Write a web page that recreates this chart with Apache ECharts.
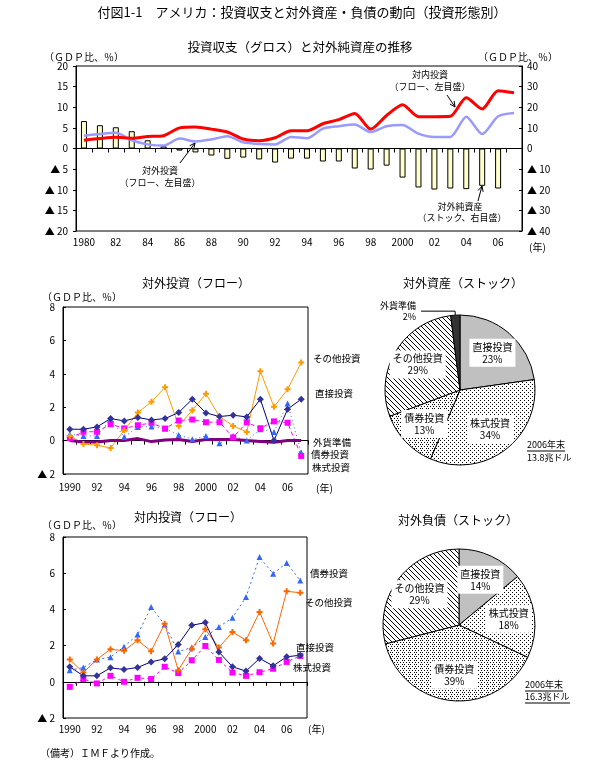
<!DOCTYPE html>
<html><head><meta charset="utf-8">
<script src="https://cdn.jsdelivr.net/npm/echarts@6/dist/echarts.min.js"></script>
<style>html,body{margin:0;padding:0;background:#fff}#c{width:605px;height:771px}</style>
</head><body><div id="c"></div>
<script>
const FONT = '"Noto Sans CJK JP", sans-serif';

// ---------- Top chart data (1980-2007) ----------
const yearsTop = ['1980','1981','1982','1983','1984','1985','1986','1987','1988','1989','1990','1991','1992','1993','1994','1995','1996','1997','1998','1999','2000','2001','2002','2003','2004','2005','2006','2007'];
const topTickLabels = ['1980','82','84','86','88','90','92','94','96','98','2000','02','04','06'];
const inwardFlowGross = [2.0,2.4,2.7,2.5,2.9,3.1,5.0,5.2,4.7,4.0,2.3,1.9,2.6,4.3,4.3,6.0,7.0,8.5,4.7,8.0,10.6,7.7,7.7,7.8,12.3,9.6,14.0,13.5];
const outwardFlowGross = [3.1,3.5,3.8,2.0,1.0,0.7,2.4,1.7,2.2,3.0,1.5,1.1,1.0,2.8,2.5,4.8,5.4,5.8,4.0,5.4,5.7,3.6,2.8,2.8,7.7,3.5,7.8,8.6];
const netAssetsStock = [13.3,11.3,10.3,8.4,4.0,1.1,-1.0,-1.9,-3.4,-5.0,-4.4,-5.3,-6.8,-4.9,-4.9,-6.3,-6.3,-9.7,-10.2,-8.3,-14.1,-18.9,-19.9,-19.4,-19.7,-18.1,-19.4,null];

// ---------- Flow charts data (1990-2007) ----------
const yearsFlow = ['1990','1991','1992','1993','1994','1995','1996','1997','1998','1999','2000','2001','2002','2003','2004','2005','2006','2007'];
const flowTickLabels = ['1990','92','94','96','98','2000','02','04','06'];
// 対外投資（フロー）
const outDirect  = [0.68,0.68,0.82,1.32,1.18,1.38,1.24,1.32,1.68,2.48,1.66,1.44,1.52,1.42,2.48,0.0,1.88,2.48];
const outOther   = [0.28,-0.2,-0.28,-0.44,0.62,1.68,2.32,3.2,0.88,1.82,2.8,1.44,0.88,0.52,4.15,2.02,3.07,4.67];
const outEquity  = [0.14,0.53,0.53,0.98,0.73,0.92,1.06,0.72,1.2,1.26,1.1,1.1,0.19,1.09,0.74,1.15,1.07,-0.92];
const outBond    = [0.38,0.28,0.28,1.28,0.22,0.82,0.84,0.72,0.34,0.08,0.28,-0.16,0.28,0.0,0.68,0.52,2.22,-0.72];
const outReserve = [0.0,-0.08,-0.08,0.0,0.0,0.12,-0.06,0.04,0.06,-0.06,0.06,0.06,0.06,0.0,-0.05,-0.1,0.0,0.0];
// 対内投資（フロー）
const inBond   = [0.64,0.79,1.23,1.36,1.93,2.61,4.13,3.16,1.67,1.89,2.48,3.03,3.54,4.68,6.89,5.97,6.57,5.6];
const inOther  = [1.23,0.51,1.23,1.8,1.71,2.3,1.69,3.21,0.64,1.82,2.9,1.89,2.75,2.3,3.86,2.11,5.0,4.92];
const inDirect = [0.83,0.33,0.33,0.77,0.68,0.79,1.1,1.27,2.06,3.12,3.27,1.65,0.83,0.59,1.29,0.88,1.38,1.47];
const inEquity = [-0.28,0.15,-0.09,0.33,0.0,0.22,0.15,0.83,0.48,1.19,1.98,1.21,0.51,0.33,0.53,0.72,1.1,1.43];

// ---------- Pies ----------
const assetCats = ['直接投資','株式投資','債券投資','その他投資','外貨準備'];
const assetShares = [23,34,13,29,2];
const liabCats = ['直接投資','株式投資','債券投資','その他投資'];
const liabShares = [14,18,39,29];

// ---------- patterns ----------
function pat(w, h, pts) {
  const c = document.createElement('canvas'); c.width = w; c.height = h;
  const g = c.getContext('2d'); g.fillStyle = '#fff'; g.fillRect(0,0,w,h);
  g.fillStyle = '#000'; pts.forEach(p => g.fillRect(p[0], p[1], 1, 1));
  return {image: c, repeat: 'repeat'};
}
const hatchPts = []; for (let i = 0; i < 5; i++) hatchPts.push([i, i]);
const PAT_HATCH = pat(5, 5, hatchPts);
const PAT_DOTS = pat(4, 4, [[0,0],[2,2]]);
const PAT_DOTS2 = pat(6, 4, [[0,0],[2,0],[1,2],[4,2]]);
const fillMap = {'直接投資':'#C0C0C0','株式投資':PAT_DOTS,'債券投資':PAT_DOTS2,'その他投資':PAT_HATCH,'外貨準備':'#333333'};

const negFmt = v => v < 0 ? '▲ ' + Math.abs(v) : String(v);
const tickFmt = labels => (v, i) => (i % 2 === 0 && labels[i/2] !== undefined) ? labels[i/2] : '';

function zeroX(grid, data) {
  return {gridIndex: grid, type: 'category', data, position: 'bottom',
    axisLine: {onZero: true, lineStyle: {color: '#000', width: 1}},
    axisTick: {show: true, length: 4, interval: 0, lineStyle: {color: '#000'}},
    axisLabel: {show: false}, splitLine: {show: false}};
}
function labelX(grid, data, labels, margin) {
  return {gridIndex: grid, type: 'category', data, position: 'bottom',
    axisLine: {show: false, onZero: false}, axisTick: {show: false},
    axisLabel: {interval: 0, formatter: tickFmt(labels), margin, fontSize: 10, color: '#000', fontFamily: FONT},
    splitLine: {show: false}};
}
function valY(grid, min, max, interval, pos, inside) {
  return {gridIndex: grid, type: 'value', min, max, interval, position: pos,
    axisLine: {show: true, lineStyle: {color: '#000'}},
    axisTick: {show: true, inside, length: 3, lineStyle: {color: '#000'}},
    splitLine: {show: false},
    axisLabel: {formatter: negFmt, fontSize: 10, color: '#000', fontFamily: FONT, margin: pos === 'right' ? 5 : 8}};
}

const plusSym = 'path://M2,0H4V2H6V4H4V6H2V4H0V2H2Z';
function flowLine(name, data, xi, yi, color, sym, size, dash, width) {
  return {name, type: 'line', data, xAxisIndex: xi, yAxisIndex: yi,
    symbol: sym, symbolSize: size, showSymbol: sym !== 'none',
    itemStyle: {color}, lineStyle: {color, width: width || 1, type: dash || 'solid'},
    emphasis: {disabled: true}};
}

function pieLabelLayout(cx, cy, skipName) {
  return function (p) {
    if (p.text && p.text.indexOf(skipName) === 0) return {};
    const r = p.labelRect; const lx = r.x + r.width/2, ly = r.y + r.height/2;
    return {dx: (lx - cx) * 0.22, dy: (ly - cy) * 0.22};
  };
}
function pieSeries(cats, shares, center, radius) {
  return {type: 'pie', center, radius, startAngle: 90, clockwise: true, avoidLabelOverlap: false,
    animation: false, emphasis: {disabled: true},
    itemStyle: {borderColor: '#000', borderWidth: 1},
    label: {position: 'inside', formatter: p => p.name + '\n' + p.value + '%', color: '#000',
      fontSize: 10, lineHeight: 12, fontFamily: FONT, backgroundColor: '#fff', padding: [2, 3]},
    labelLayout: pieLabelLayout(center[0], center[1], '外貨準備'),
    data: cats.map((c, i) => {
      const d = {name: c, value: shares[i], itemStyle: {color: fillMap[c]}};
      if (c === '外貨準備') {
        d.label = {position: 'outside', backgroundColor: 'transparent', padding: 0, align: 'right', lineHeight: 11, fontSize: 9};
        d.labelLine = {show: true, length: 4, length2: 34, lineStyle: {color: '#000', width: 1}};
      }
      return d;
    })};
}

function txt(text, x, y, size, align, extra) {
  return Object.assign({type: 'text', x, y, silent: true,
    style: {text, font: (size || 10) + 'px ' + FONT, fill: '#000', align: align || 'left', verticalAlign: 'middle'}}, extra || {});
}
function ln(x1, y1, x2, y2, w) {
  return {type: 'line', silent: true, shape: {x1, y1, x2, y2}, style: {stroke: '#000', lineWidth: w || 1}};
}
function arrow(x1, y1, x2, y2) {
  const a = Math.atan2(y2 - y1, x2 - x1), L = 6, s = 0.45;
  return [ln(x1, y1, x2, y2),
    {type: 'polyline', silent: true, shape: {points: [[x2 - L*Math.cos(a - s), y2 - L*Math.sin(a - s)], [x2, y2], [x2 - L*Math.cos(a + s), y2 - L*Math.sin(a + s)]]},
     style: {stroke: '#000', lineWidth: 1, fill: null}}];
}

const graphics = [
  txt('付図1-1　アメリカ：投資収支と対外資産・負債の動向（投資形態別）', 302, 12, 13, 'center'),
  txt('投資収支（グロス）と対外純資産の推移', 300, 47, 12.5, 'center'),
  txt('（ＧＤＰ比、％）', 44, 57, 10),
  txt('（ＧＤＰ比、％）', 478, 57, 10),
  txt('対内投資', 430, 75, 9, 'center'),
  txt('（フロー、左目盛）', 430, 87, 9, 'center'),
  ...arrow(447, 95, 455, 107),
  txt('対外投資', 160, 171, 9, 'center'),
  txt('（フロー、左目盛）', 160, 183, 9, 'center'),
  ...arrow(180, 163, 195, 143),
  txt('対外純資産', 460, 207, 9, 'center'),
  txt('（ストック、右目盛）', 462, 218, 9, 'center'),
  ...arrow(478, 201, 482, 186),
  txt('(年)', 529, 247, 10),

  txt('対外投資（フロー）', 196, 283, 12, 'center'),
  txt('（ＧＤＰ比、％）', 42, 297, 10),
  txt('その他投資', 313, 358, 9.5),
  txt('直接投資', 315, 393, 9.5),
  txt('外貨準備', 313, 442, 9.5),
  txt('債券投資', 311, 454, 9.5),
  txt('株式投資', 312, 467, 9.5),
  txt('(年)', 316, 488, 10),

  txt('対外資産（ストック）', 463, 283, 12, 'center'),
  txt('2006年末', 527, 445, 9),
  ln(527, 451, 565, 451),
  txt('13.8兆ドル', 527, 458, 9),

  txt('対内投資（フロー）', 188, 517, 12, 'center'),
  txt('（ＧＤＰ比、％）', 42, 525, 10),
  txt('債券投資', 310, 573, 9.5),
  txt('その他投資', 305, 602, 9.5),
  txt('直接投資', 296, 647, 9.5),
  txt('株式投資', 293, 667, 9.5),
  txt('(年)', 308, 729, 10),

  txt('対外負債（ストック）', 458, 520, 12, 'center'),
  txt('2006年末', 525, 685, 9),
  ln(525, 691, 563, 691),
  txt('16.3兆ドル', 525, 697, 9),
  ln(525, 703, 570, 703),

  txt('（備考）ＩＭＦより作成。', 40, 753, 10)
];

const option = {
  animation: false,
  textStyle: {fontFamily: FONT},
  grid: [
    {left: 76, top: 66, width: 446, height: 165, show: true, borderColor: '#000', borderWidth: 1, backgroundColor: 'transparent'},
    {left: 63, top: 307, width: 245, height: 167, show: true, borderColor: '#000', borderWidth: 1, backgroundColor: 'transparent'},
    {left: 63, top: 537, width: 244, height: 181, show: true, borderColor: '#000', borderWidth: 1, backgroundColor: 'transparent'}
  ],
  xAxis: [
    zeroX(0, yearsTop), labelX(0, yearsTop, topTickLabels, 6),
    zeroX(1, yearsFlow), labelX(1, yearsFlow, flowTickLabels, 8),
    zeroX(2, yearsFlow), labelX(2, yearsFlow, flowTickLabels, 6)
  ],
  yAxis: [
    valY(0, -20, 20, 5, 'left', false),
    valY(0, -40, 40, 10, 'right', true),
    valY(1, -2, 8, 2, 'left', true),
    valY(2, -2, 8, 2, 'left', true)
  ],
  series: [
    {name: '対外純資産', type: 'bar', data: netAssetsStock, xAxisIndex: 0, yAxisIndex: 1, barWidth: 6,
      itemStyle: {color: '#FFFFCC', borderColor: '#000', borderWidth: 1}, emphasis: {disabled: true}},
    {name: '対外投資', type: 'line', data: outwardFlowGross, xAxisIndex: 0, yAxisIndex: 0, smooth: 0.25,
      symbol: 'none', lineStyle: {color: '#9999FF', width: 2.5}, itemStyle: {color: '#9999FF'}, z: 3},
    {name: '対内投資', type: 'line', data: inwardFlowGross, xAxisIndex: 0, yAxisIndex: 0, smooth: 0.25,
      symbol: 'none', lineStyle: {color: '#FF0000', width: 3}, itemStyle: {color: '#FF0000'}, z: 4},

    flowLine('債券投資', outBond, 2, 2, '#3366FF', 'triangle', 6, [1, 3]),
    flowLine('株式投資', outEquity, 2, 2, '#FF00FF', 'rect', 6, [4, 3]),
    flowLine('その他投資', outOther, 2, 2, '#FF9900', plusSym, 6),
    Object.assign(flowLine('直接投資', outDirect, 2, 2, '#333399', 'diamond', 7), {lineStyle: {color: '#000080', width: 1}}),
    flowLine('外貨準備', outReserve, 2, 2, '#800080', 'none', 0, 'solid', 3),

    flowLine('債券投資', inBond, 4, 3, '#3366FF', 'triangle', 6, [2, 3]),
    flowLine('株式投資', inEquity, 4, 3, '#FF00FF', 'rect', 6, [3, 3]),
    flowLine('その他投資', inOther, 4, 3, '#FF6600', plusSym, 6),
    Object.assign(flowLine('直接投資', inDirect, 4, 3, '#333399', 'diamond', 7), {lineStyle: {color: '#000080', width: 1}}),

    pieSeries(assetCats, assetShares, [460, 390], 75),
    pieSeries(liabCats, liabShares, [459, 625], 76)
  ],
  graphic: graphics
};

const chart = echarts.init(document.getElementById('c'), null, {renderer: 'canvas'});
chart.setOption(option);
</script>
</body></html>
